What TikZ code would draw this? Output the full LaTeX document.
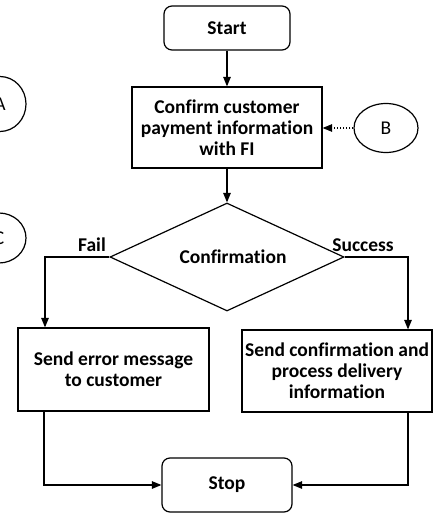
\documentclass[tikz,border=0pt]{standalone}
\usepackage{fontspec}
\setmainfont{Carlito}[Ligatures=NoCommon]
\usetikzlibrary{shapes.geometric,arrows.meta,calc}

\tikzset{
  x=1pt, y=-1pt,
  every node/.style={font=\fontsize{19.5}{21}\selectfont\bfseries},
  line/.style={line width=1.2pt, draw=black},
  arr/.style={line, -{Triangle[width=7.5pt,length=9.5pt]}},
  dotarr/.style={line width=1.1pt, dotted, -{Triangle[width=7.5pt,length=9.5pt]}},
  terminal/.style={line, rounded corners=8pt, rectangle, minimum width=126pt, minimum height=44pt, inner sep=0pt},
  process/.style={line, rectangle, align=center, inner sep=0pt},
  connector/.style={line, ellipse, inner sep=0pt, font=\fontsize{19.5}{21}\selectfont\mdseries},
  decision/.style={line, diamond, inner sep=0pt, minimum width=234pt, minimum height=108pt},
  tag/.style={inner sep=0pt}
}

\begin{document}
\begin{tikzpicture}
\clip (0,0) rectangle (437,513);
\fill[white] (0,0) rectangle (437,513);

% off-page connectors
\node[connector, minimum width=52pt, minimum height=55pt] (cA) at (0,104) {A};
\node[connector, minimum width=54pt, minimum height=50pt] (cC) at (-1,238) {C};
\node[connector, minimum width=64pt, minimum height=49pt] (cB) at (386,128) {B};

% main flow
\node[terminal] (start) at (227,28) {Start};
\node[process, minimum width=190pt, minimum height=81pt] (confirm) at (227,127.5)
  {Confirm customer\\payment information\\with FI};
\node[decision] (dia) at (227,257) {};
\node[tag] (conftext) at (233,257) {Confirmation};

\node[process, minimum width=191pt, minimum height=83pt] (err) at (113.5,369.5)
  {Send error message\\to customer};
\node[process, minimum width=190pt, minimum height=82pt] (ok) at (337,371)
  {Send confirmation and\\process delivery\\information};

\node[terminal, minimum width=130pt, minimum height=54pt] (stop) at (227,485) {Stop};

% branch labels
\node[tag] (fail) at (92,245) {Fail};
\node[tag] (succ) at (363,245) {Success};

% routing columns
\coordinate (fx) at (45,0);
\coordinate (sx) at (408,0);
\coordinate (lx) at (44,0);

% connectors
\draw[arr] (start) -- (confirm);
\draw[arr] (confirm) -- (dia.north);
\draw[dotarr] (cB.west) -- (confirm.east |- cB.west);
\draw[arr] (dia.west) -| (err.north -| fx);
\draw[arr] (dia.east) -| (ok.north -| sx);
\draw[arr] (err.south -| lx) |- (stop.west);
\draw[arr] (ok.south -| sx) |- (stop.east);
\end{tikzpicture}
\end{document}
